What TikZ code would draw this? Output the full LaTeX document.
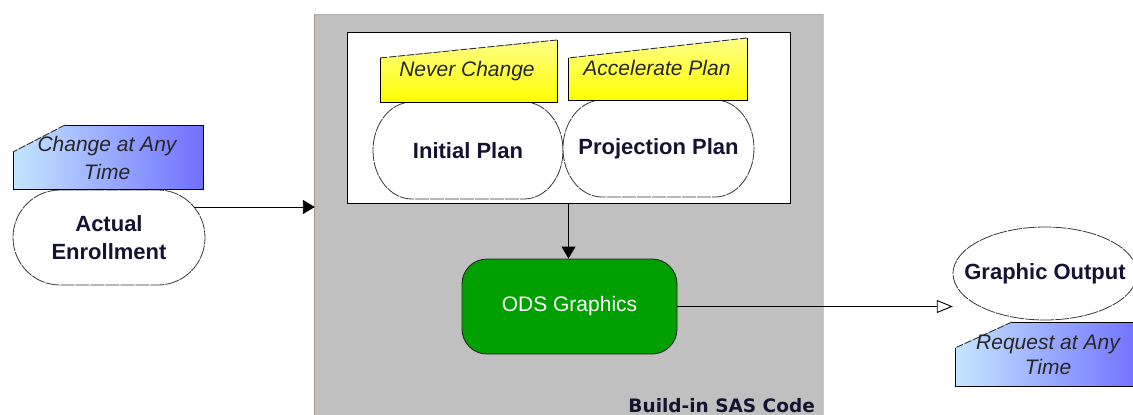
\documentclass[tikz,border=0pt]{standalone}
\usepackage{fontspec}
\setmainfont{Liberation Sans}
\newfontfamily\titlefont{DejaVu Sans}
\usetikzlibrary{arrows.meta,shapes.geometric}
\definecolor{sasgray}{HTML}{C0C0C0}
\definecolor{odsgreen}{HTML}{00A000}
\definecolor{ylight}{HTML}{FFFF88}
\definecolor{ydark}{HTML}{FFFF00}
\definecolor{bleft}{HTML}{C4E6FF}
\definecolor{bright}{HTML}{7070FF}
\definecolor{txt}{HTML}{141432}
\definecolor{outl}{HTML}{383838}
\definecolor{leftedge}{HTML}{A89888}
\definecolor{rightedge}{HTML}{B4CCE6}
\newcommand\termnode[7]{%
  \filldraw[termline] ({#2-#4/2+#6},{#3+#5/2}) -- ({#2+#4/2-#6},{#3+#5/2})
    arc[start angle=90,end angle=-90,x radius=#6,y radius=#5/2]
    -- ({#2-#4/2+#6},{#3-#5/2})
    arc[start angle=270,end angle=90,x radius=#6,y radius=#5/2] -- cycle;
  \node[lbl, minimum width=#4, minimum height=#5] (#1) at (#2,#3) {#7};
}
\begin{document}
\begin{tikzpicture}[x=1pt,y=1pt,
  lbl/.style={font=\fontsize{22}{28}\selectfont\bfseries, text=txt, align=center, inner sep=0},
  note/.style={font=\fontsize{21}{28}\selectfont\itshape, text=black!85, align=center, inner sep=0},
  termline/.style={draw=outl, line width=0.8pt, dash pattern=on 14pt off 1pt, fill=white},
  cardedge/.style={draw=black, line width=0.9pt},
  cardtop/.style={draw=black!80, line width=0.9pt, dash pattern=on 7pt off 2pt},
  arr/.style={draw=black, line width=0.9pt, -{Triangle[width=14pt,length=12pt]}},
  openarr/.style={draw=black, line width=0.9pt, -{Triangle[open,width=13pt,length=16pt]}}]
\useasboundingbox (0,0) rectangle (1133,-415);
\fill[white] (0,0) rectangle (1133,-415);

% SAS code area
\node[fill=sasgray, minimum width=508, minimum height=406, inner sep=0] (sas) at (569,-217) {};
\draw[leftedge, line width=1pt] (sas.north west) -- (sas.south west);
\draw[rightedge, line width=1pt] (sas.north east) -- (sas.south east);
\draw[black!30, line width=0.6pt] (sas.north west) -- (sas.north east);
\node[font=\titlefont\fontsize{18.5}{20}\selectfont\bfseries, text=txt, anchor=base east, inner sep=0] (sastitle) at (815,-412) {Build-in SAS Code};

% plan box
\node[draw=black, line width=1pt, fill=white, minimum width=443, minimum height=171, inner sep=0] (plans) at (568.5,-117.5) {};

\termnode{init}{468}{-150.5}{190}{97}{39}{Initial Plan}
\termnode{proj}{658.5}{-148.5}{191}{97}{39}{Projection Plan}

% yellow cards
\fill[top color=ylight, bottom color=ydark] (380,-58) -- (380,-102) -- (557,-102) -- (557,-40) -- cycle;
\draw[cardedge] (380,-58) -- (380,-102) -- (557,-102) -- (557,-40);
\draw[cardtop] (557,-40) -- (380,-58);
\node[note] (nc) at (467,-71) {Never Change};
\fill[top color=ylight, bottom color=ydark] (568,-58) -- (568,-100) -- (747,-100) -- (747,-38) -- cycle;
\draw[cardedge] (568,-58) -- (568,-100) -- (747,-100) -- (747,-38);
\draw[cardtop] (747,-38) -- (568,-58);
\node[note] (ap) at (657,-68) {Accelerate Plan};

% actual enrollment
\termnode{ae}{109}{-237.5}{192}{95}{47}{Actual\\Enrollment}
\fill[left color=bleft, right color=bright] (13,-189) -- (203,-189) -- (203,-125) -- (65,-125) -- (13,-152) -- cycle;
\draw[cardedge] (13,-152) -- (13,-189) -- (203,-189) -- (203,-125) -- (65,-125);
\draw[cardtop] (65,-125) -- (13,-152);
\node[note] (ct) at (107,-157.5) {Change at Any\\Time};

% ODS graphics
\node[draw=black!85, line width=0.9pt, fill=odsgreen, rounded corners=25pt, minimum width=215, minimum height=95, inner sep=0, font=\fontsize{21}{24}\selectfont, text=white] (ods) at (569.5,-306.5) {ODS Graphics};

% graphic output
\filldraw[termline] (1045,-273.5) ellipse[x radius=92, y radius=46.5];
\node[lbl, minimum width=184, minimum height=93] (go) at (1045,-273.5) {Graphic Output};
\fill[left color=bleft, right color=bright] (955,-386) -- (1140,-386) -- (1140,-322) -- (1012,-322) -- (955,-348) -- cycle;
\draw[cardedge] (955,-348) -- (955,-386) -- (1140,-386);
\draw[cardedge] (1140,-322) -- (1012,-322);
\draw[cardtop] (1012,-322) -- (955,-348);
\node[note, font=\fontsize{21}{25}\selectfont\itshape] (rq) at (1048,-354.5) {Request at Any\\Time};

% connectors
\coordinate (aeout) at ([xshift=-11pt,yshift=30.5pt]ae.east);
\draw[arr] (aeout) -- (sas.west |- aeout);
\draw[arr] (plans.south) -- (plans.south |- ods.north);
\draw[openarr] (ods.east) -- (go.west |- ods.east);
\end{tikzpicture}
\end{document}
